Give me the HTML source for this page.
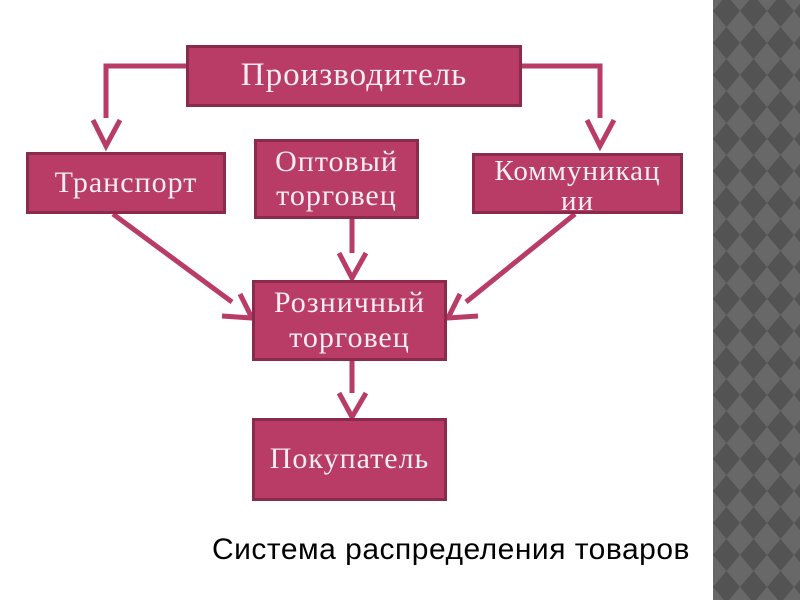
<!DOCTYPE html>
<html><head><meta charset="utf-8"><style>
body{margin:0;width:800px;height:600px;overflow:hidden;background:#fff;position:relative;font-family:"Liberation Serif",serif}
.b{position:absolute;box-sizing:border-box;background:#b83c66;border:3px solid #8a2b4b;color:#f6eef2;text-align:center;display:flex;align-items:center;justify-content:center;line-height:1.15;font-size:30px;letter-spacing:1px;white-space:nowrap}
svg{position:absolute;left:0;top:0}
.cap{position:absolute;left:212px;top:533px;font-family:"Liberation Sans",sans-serif;font-size:30px;letter-spacing:0.5px;color:#000}
</style></head><body>
<svg width="800" height="600">
<defs><pattern id="d" x="713" y="-5" width="27" height="32" patternUnits="userSpaceOnUse">
<rect width="27" height="32" fill="#686868"/>
<polygon points="13.5,0 27,16 13.5,32 0,16" fill="#535353"/>
</pattern></defs>
<rect x="713" y="0" width="87" height="600" fill="url(#d)"/>
</svg>
<svg width="800" height="600" fill="none" stroke="#b83c66" stroke-width="5">
<polyline points="186,66 106,66 106,118"/>
<polyline points="93,120 106,146 120,120"/>
<polyline points="521,66 600,66 600,118"/>
<polyline points="587,120 600,146 614,120"/>
<line x1="352" y1="218" x2="352" y2="253"/>
<polyline points="339,253 352,278 366,253"/>
<line x1="352" y1="360" x2="352" y2="393"/>
<polyline points="339,393 352,417 366,393"/>
<line x1="113" y1="214" x2="232" y2="302"/>
<polyline points="240,294 252,318 222,316"/>
<line x1="575" y1="214" x2="466" y2="302"/>
<polyline points="460,294 448,318 478,316"/>
</svg>
<div class="b" style="left:186px;top:45px;width:336px;height:62px;font-size:33px">Производитель</div>
<div class="b" style="left:26px;top:152px;width:200px;height:62px">Транспорт</div>
<div class="b" style="left:254px;top:139px;width:165px;height:80px">Оптовый<br>торговец</div>
<div class="b" style="left:472px;top:153px;width:211px;height:61px;align-items:flex-start;padding-top:0;line-height:30px;font-size:29px">Коммуникац<br>ии</div>
<div class="b" style="left:252px;top:280px;width:195px;height:81px">Розничный<br>торговец</div>
<div class="b" style="left:252px;top:418px;width:195px;height:83px">Покупатель</div>
<div class="cap">Система распределения товаров</div>
</body></html>
